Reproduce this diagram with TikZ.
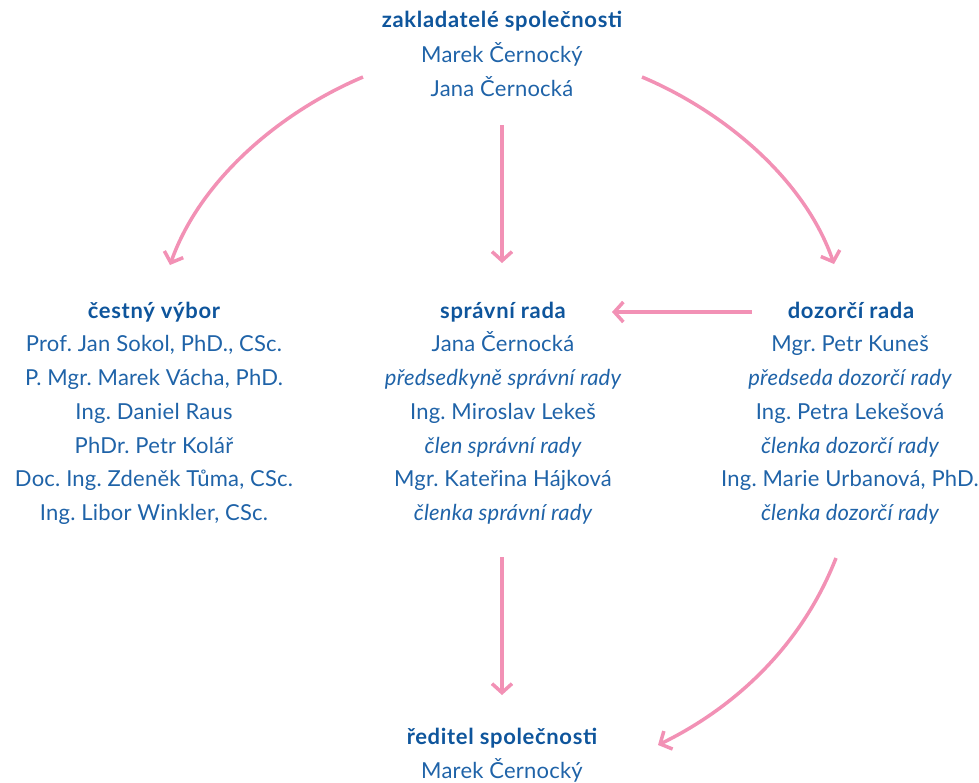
\documentclass[tikz,border=0pt]{standalone}
\usepackage{fontspec}
\setmainfont{Lato}
\usetikzlibrary{arrows.meta}
\definecolor{txt}{HTML}{1F63A8}
\definecolor{hdr}{HTML}{0E559C}
\definecolor{pk}{HTML}{F291B5}
\tikzset{
  ln/.style={anchor=base, inner sep=0pt, text=txt, font=\fontsize{22}{26}\selectfont\frenchspacing\addfontfeature{LetterSpace=1}},
  it/.style={ln, font=\fontsize{22}{26}\selectfont\frenchspacing\itshape\addfontfeature{LetterSpace=1}},
  hd/.style={ln, text=hdr, font=\fontsize{22}{26}\selectfont\frenchspacing\bfseries\addfontfeature{LetterSpace=3}},
  arr/.style={draw=pk, line width=3.5pt, -{Straight Barb[length=9pt,width=20pt]}}
}
\begin{document}
\begin{tikzpicture}[x=1pt,y=-1pt]
\useasboundingbox (0,0) rectangle (979,782);
% top block
\node[hd] (z1) at (502,27) {zakladatelé společnosti};
\node[ln] (z2) at (502,62) {Marek Černocký};
\node[ln] (z3) at (502,96) {Jana Černocká};
% left column
\node[hd] (c1) at (154,318) {čestný výbor};
\node[ln] (c2) at (154,351.75) {Prof. Jan Sokol, PhD., CSc.};
\node[ln] (c3) at (154,385.5) {P. Mgr. Marek Vácha, PhD.};
\node[ln] (c4) at (154,419.25) {Ing. Daniel Raus};
\node[ln] (c5) at (154,453) {PhDr. Petr Kolář};
\node[ln] (c6) at (154,486.75) {Doc. Ing. Zdeněk Tůma, CSc.};
\node[ln] (c7) at (154,520.5) {Ing. Libor Winkler, CSc.};
% middle column
\node[hd] (s1) at (503,318) {správní rada};
\node[ln] (s2) at (503,351.75) {Jana Černocká};
\node[it] (s3) at (503,385.5) {předsedkyně správní rady};
\node[ln] (s4) at (503,419.25) {Ing. Miroslav Lekeš};
\node[it] (s5) at (503,453) {člen správní rady};
\node[ln] (s6) at (503,486.75) {Mgr. Kateřina Hájková};
\node[it] (s7) at (503,520.5) {členka správní rady};
% right column
\node[hd] (d1) at (851,318) {dozorčí rada};
\node[ln] (d2) at (850,351.75) {Mgr. Petr Kuneš};
\node[it] (d3) at (850,385.5) {předseda dozorčí rady};
\node[ln] (d4) at (850,419.25) {Ing. Petra Lekešová};
\node[it] (d5) at (850,453) {členka dozorčí rady};
\node[ln] (d6) at (850,486.75) {Ing. Marie Urbanová, PhD.};
\node[it] (d7) at (850,520.5) {členka dozorčí rady};
% bottom block
\node[hd] (r1) at (502,744) {ředitel společnosti};
\node[ln] (r2) at (502,778) {Marek Černocký};
% connector end points
\coordinate (aL0) at (363,77);
\coordinate (aL1) at (170,265);
\coordinate (aM0) at (502,125);
\coordinate (aM1) at (502,263);
\coordinate (aR0) at (642,77);
\coordinate (aR1) at (834,264);
\coordinate (aH0) at (752,312);
\coordinate (aH1) at (612,312);
\coordinate (aD0) at (502,557);
\coordinate (aD1) at (502,695);
\coordinate (aB0) at (836,558);
\coordinate (aB1) at (658,745);
% connectors
\draw[arr] (aL0) .. controls (280,112) and (200,180) .. (aL1);
\draw[arr] (aM0) -- (aM1);
\draw[arr] (aR0) .. controls (725,112) and (805,180) .. (aR1);
\draw[arr] (aH0) -- (aH1);
\draw[arr] (aD0) -- (aD1);
\draw[arr] (aB0) .. controls (800,650) and (730,710) .. (aB1);
\end{tikzpicture}
\end{document}
